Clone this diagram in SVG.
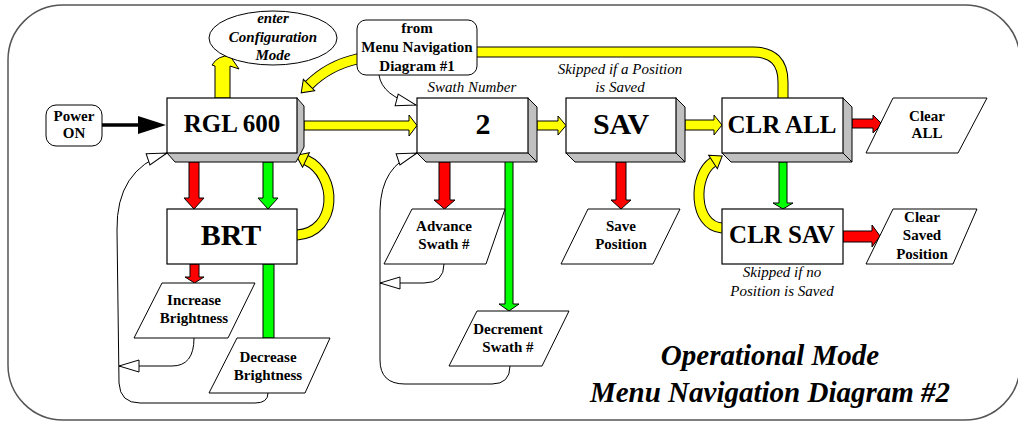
<svg xmlns="http://www.w3.org/2000/svg" width="1018" height="421" viewBox="0 0 1018 421">
<style>
text{font-family:'Liberation Serif','Times New Roman','DejaVu Serif',serif;text-anchor:middle;fill:#000}
.b25{font-weight:bold;font-size:25px}
.b30{font-weight:bold;font-size:30px}
.lb{font-weight:bold;font-size:15px}
.it{font-style:italic;font-size:15px}
.bi{font-weight:bold;font-style:italic;font-size:15px}
.ti{font-weight:bold;font-style:italic;font-size:29px}
.box{fill:#fff;stroke:#000;stroke-width:1.2}
.ext{fill:#c0c0c0;stroke:#000;stroke-width:1}
.para{fill:#fff;stroke:#000;stroke-width:1}
.thin{fill:none;stroke:#000;stroke-width:1;marker-end:url(#open)}
.yo{fill:none;stroke:#000;stroke-width:11}
.yf{fill:none;stroke:#ff0;stroke-width:9}
.red{fill:#f00;stroke:#000;stroke-width:1}
.grn{fill:#0f0;stroke:#000;stroke-width:1}
.yel{fill:#ff0;stroke:#000;stroke-width:1}
</style>
<defs>
<marker id="open" markerUnits="userSpaceOnUse" markerWidth="24" markerHeight="16" refX="21" refY="7" orient="auto" overflow="visible">
<path d="M1,1 L21,7 L1,13 Z" fill="#fff" stroke="#000" stroke-width="1"/>
</marker>
<marker id="yh" markerUnits="userSpaceOnUse" markerWidth="14" markerHeight="22" refX="1" refY="11" orient="auto" overflow="visible">
<path d="M1,3 L12,11 L1,19 Z" fill="#ff0" stroke="#000" stroke-width="1"/>
</marker>
</defs>

<rect id="frame" x="8" y="5" width="1012" height="415" rx="55" ry="55" fill="#fff" stroke="#555" stroke-width="1.5"/>

<g id="connectors">
<path class="yo" d="M783,98 L783,82 Q783,52 753,52 L420,52 L357,59 C335,64 320,74 309,85"/>
<path class="yf" d="M783,98 L783,82 Q783,52 753,52 L420,52 L357,59 C335,64 320,74 309,85" marker-end="url(#yh)"/>
<path class="yo" d="M297,235 C338,232 338,175 306,160"/>
<path class="yf" d="M297,235 C338,232 338,175 306,160" marker-end="url(#yh)"/>
<path class="yo" d="M722,228 C693,226 693,175 713,162"/>
<path class="yf" d="M722,228 C693,226 693,175 713,162" marker-end="url(#yh)"/>
<path class="yel" d="M215,98 L215,66 L212,65 Q218,55 230,56 L239,69 L230,66 L230,98 Z"/>
<line x1="102" y1="125" x2="140" y2="125" stroke="#000" stroke-width="3.5"/>
<polygon points="138,116 166,125 138,134" fill="#000"/>
<polygon class="yel" points="304,121 409,121 409,115 417,125.5 409,136 409,130 304,130"/>
<polygon class="yel" points="537,121 558,121 558,116 566,125.5 558,135 558,130 537,130"/>
<polygon class="yel" points="685,120 714,120 714,115 722,125 714,135 714,130 685,130"/>
<polygon class="red" points="189,162 199,162 199,198 204,198 194,209 184,198 189,198"/>
<polygon class="grn" points="263,162 273,162 273,198 278,198 268,209 258,198 263,198"/>
<polygon class="red" points="190,264 199,264 199,277 204,277 194.5,283 185,277 190,277"/>
<rect class="grn" x="263" y="264" width="11" height="74"/>
<polygon class="red" points="439,162 450,162 450,200 455,200 444.5,209 434,200 439,200"/>
<polygon class="grn" points="505,157 513,157 513,304 519,304 509,311 499,304 505,304"/>
<polygon class="red" points="616,162 626,162 626,200 631,200 621,209 611,200 616,200"/>
<polygon class="grn" points="779,162 787,162 787,203 793,203 783,209 773,203 779,203"/>
<polygon class="red" points="852,119 873,119 873,115 882,124 873,133 873,128 852,128"/>
<polygon class="red" points="843,231 872,231 872,225 880,236 872,247 872,242 843,242"/>
<path class="thin" d="M194,338 Q194,366 172,366 L119,366"/>
<path class="thin" d="M268,393 Q268,403 255,403 L140,403 Q120,403 119,383 L117,230 Q116,170 167,153"/>
<path class="thin" d="M444,264 Q444,283 424,283 L380,283"/>
<path class="thin" d="M510,366 Q510,384 492,384 L405,384 Q380,384 380,360 L380,210 Q381,165 417,153"/>
<path class="thin" d="M379,75 Q382,96 416,105"/>
</g>

<g id="config">
<ellipse cx="273" cy="38" rx="64" ry="27" fill="#fff" stroke="#000" stroke-width="1"/>
<text class="bi" x="273" y="23">enter</text>
<text class="bi" x="273" y="42">Configuration</text>
<text class="bi" x="273" y="60">Mode</text>
</g>

<g id="from">
<rect x="357" y="20" width="120" height="55" rx="9" fill="#fff" stroke="#000" stroke-width="1"/>
<text class="lb" x="417" y="33">from</text>
<text class="lb" x="417" y="52">Menu Navigation</text>
<text class="lb" x="417" y="71">Diagram #1</text>
</g>

<g id="power">
<rect x="46" y="105" width="56" height="41" rx="10" fill="#fff" stroke="#000" stroke-width="1"/>
<text class="lb" x="74" y="121">Power</text>
<text class="lb" x="74" y="138">ON</text>
</g>

<g id="rgl600">
<polygon class="ext" points="297,98 304,106 304,147 296,162 175,162 167,153"/>
<rect class="box" x="167" y="98" width="130" height="55"/>
<text class="b25" x="232" y="132">RGL 600</text>
</g>

<g id="swath">
<polygon class="ext" points="528,98 537,107 537,162 426,162 417,153"/>
<line x1="528" y1="153" x2="537" y2="162" stroke="#000"/>
<rect class="box" x="417" y="98" width="111" height="55"/>
<text class="b30" x="483" y="134">2</text>
<text class="it" x="472" y="92">Swath Number</text>
</g>

<g id="sav">
<polygon class="ext" points="676,98 685,107 685,162 575,162 566,153"/>
<line x1="676" y1="153" x2="685" y2="162" stroke="#000"/>
<rect class="box" x="566" y="98" width="110" height="55"/>
<text class="b30" x="621" y="134">SAV</text>
<text class="it" x="620" y="74">Skipped if a Position</text>
<text class="it" x="620" y="92">is Saved</text>
</g>

<g id="clrall">
<polygon class="ext" points="843,98 852,107 852,162 731,162 722,153"/>
<line x1="843" y1="153" x2="852" y2="162" stroke="#000"/>
<rect class="box" x="722" y="98" width="121" height="55"/>
<text class="b25" x="782" y="133">CLR ALL</text>
</g>

<g id="brt">
<rect class="box" x="167" y="209" width="130" height="55"/>
<text class="b30" x="231" y="245">BRT</text>
</g>

<g id="clrsav">
<rect class="box" x="722" y="209" width="121" height="55"/>
<text class="b25" x="782" y="243">CLR SAV</text>
<text class="it" x="782" y="277">Skipped if no</text>
<text class="it" x="782" y="296">Position is Saved</text>
</g>

<g id="clearall">
<polygon class="para" points="893,98 987,98 958,153 866,153"/>
<text class="lb" x="927" y="121">Clear</text>
<text class="lb" x="927" y="138">ALL</text>
</g>

<g id="clearsaved">
<polygon class="para" points="893,209 977,209 953,264 866,264"/>
<text class="lb" x="922" y="222">Clear</text>
<text class="lb" x="922" y="240">Saved</text>
<text class="lb" x="922" y="259">Position</text>
</g>

<g id="advance">
<polygon class="para" points="412,209 505,209 486,264 384,264"/>
<text class="lb" x="444" y="231">Advance</text>
<text class="lb" x="444" y="249">Swath #</text>
</g>

<g id="save">
<polygon class="para" points="588,209 680,209 653,264 561,264"/>
<text class="lb" x="621" y="231">Save</text>
<text class="lb" x="621" y="249">Position</text>
</g>

<g id="decrement">
<polygon class="para" points="477,311 569,311 542,366 449,366"/>
<text class="lb" x="508" y="334">Decrement</text>
<text class="lb" x="508" y="352">Swath #</text>
</g>

<g id="increase">
<polygon class="para" points="162,283 255,283 228,338 134,338"/>
<text class="lb" x="194" y="305">Increase</text>
<text class="lb" x="194" y="323">Brightness</text>
</g>

<g id="decrease">
<polygon class="para" points="237,338 330,338 305,393 209,393"/>
<text class="lb" x="268" y="362">Decrease</text>
<text class="lb" x="268" y="380">Brightness</text>
</g>

<g id="title">
<text class="ti" x="770" y="365">Operational Mode</text>
<text class="ti" x="770" y="402">Menu Navigation Diagram #2</text>
</g>
</svg>
